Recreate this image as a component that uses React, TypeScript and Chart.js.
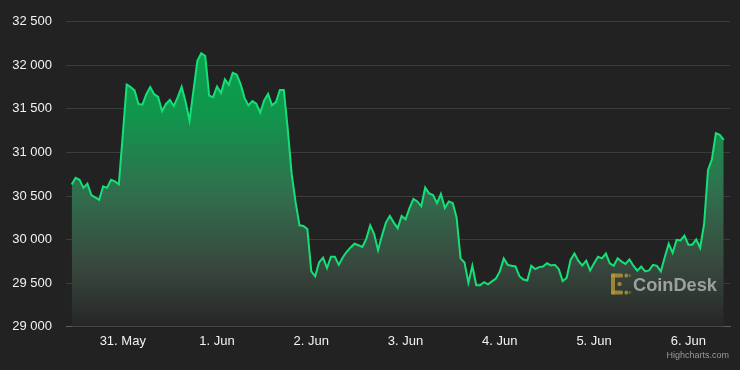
import { useEffect, useRef } from 'react';
import { Chart, registerables } from 'chart.js';

Chart.register(...registerables);

// Day tick labels (midnight of each day, hours 0, 24, ... relative to 31 May 00:00)
const tickLabels = ['31. May', '1. Jun', '2. Jun', '3. Jun', '4. Jun', '5. Jun', '6. Jun'];
const yMin = 29000;
const yMax = 32500;
const yStep = 500;

// Hourly BTC price, first point at 30 May 11:00 (hour -13 relative to 31 May 00:00)
const startHour = -13;
const prices = [
  30631, 30710, 30687, 30594, 30643, 30512, 30485, 30456, 30612, 30594, 30687, 30668, 30635,
  31200, 31780, 31750, 31713, 31557, 31549, 31669, 31750, 31669, 31638, 31474, 31557, 31605,
  31534, 31635, 31754, 31579, 31366, 31709, 32052, 32139, 32108, 31653, 31635,
  31758, 31683, 31840, 31776, 31915, 31896, 31784, 31627, 31541, 31590, 31560, 31456, 31597,
  31672, 31541, 31579, 31717, 31717, 31270, 30754, 30430, 30164, 30157, 30120,
  29635, 29579, 29740, 29792, 29672, 29803, 29803, 29710, 29795, 29860, 29910, 29952, 29935,
  29915, 30008, 30164, 30064, 29878, 30046, 30195, 30270, 30195, 30131, 30270,
  30232, 30360, 30467, 30438, 30382, 30598, 30531, 30512, 30419, 30523, 30363, 30438, 30419,
  30251, 29784, 29736, 29504, 29699, 29475, 29475, 29512, 29486, 29520, 29553,
  29635, 29784, 29710, 29699, 29691, 29579, 29542, 29531, 29699, 29661, 29684, 29691, 29728,
  29703, 29710, 29661, 29523, 29560, 29766, 29840, 29755, 29703, 29758, 29646,
  29728, 29803, 29784, 29840, 29728, 29699, 29785, 29747, 29720, 29773, 29700, 29643, 29691,
  29635, 29646, 29710, 29699, 29635, 29800, 29952, 29848, 29997, 29990, 30046,
  29941, 29941, 30001, 29904, 30176, 30799, 30922, 31221, 31202, 31146,
];

const fmt = (v: number) => {
  const s = Math.round(v).toString();
  return s.replace(/\B(?=(\d{3})+(?!\d))/g, ' ');
};

const watermarkPlugin = {
  id: 'watermark',
  afterDraw(chart: any) {
    const ctx = chart.ctx as CanvasRenderingContext2D;
    ctx.save();
    // CoinDesk logo (approximation)
    const lx = 611;
    const ly = 273.5;
    ctx.fillStyle = 'rgba(185,150,55,0.8)';
    const rr = (x: number, y: number, w: number, h: number) => {
      ctx.beginPath();
      (ctx as any).roundRect(x, y, w, h, 1.5);
      ctx.fill();
    };
    rr(lx, ly, 4, 21);
    rr(lx, ly, 12, 4);
    rr(lx, ly + 17, 12, 4);
    rr(lx + 13.5, ly, 3.5, 4);
    rr(lx + 13.5, ly + 17, 3.5, 4);
    rr(lx + 6.5, ly + 8.5, 4, 4);
    ctx.fillStyle = 'rgba(185,150,55,0.45)';
    rr(lx + 17.5, ly + 0.5, 2.5, 3);
    rr(lx + 17.5, ly + 17.5, 2.5, 3);
    // CoinDesk text
    ctx.fillStyle = 'rgba(185,185,185,0.8)';
    ctx.font = 'bold 19px "Liberation Sans", Arial, sans-serif';
    ctx.textAlign = 'left';
    ctx.textBaseline = 'alphabetic';
    ctx.fillText('CoinDesk', 633, 291, 84);
    // credits
    ctx.fillStyle = '#9a9a9a';
    ctx.font = '9px "Liberation Sans", Arial, sans-serif';
    ctx.textAlign = 'right';
    ctx.fillText('Highcharts.com', 729, 358);
    ctx.restore();
  },
};

export default function App() {
  const ref = useRef<HTMLCanvasElement>(null);

  useEffect(() => {
    document.body.style.margin = '0';
    document.body.style.background = '#222222';
    const points = prices.map((p, i) => ({ x: startHour + i, y: p }));
    const chart = new Chart(ref.current as HTMLCanvasElement, {
      type: 'line',
      data: {
        datasets: [
          {
            data: points,
            borderColor: '#14e077',
            borderWidth: 2,
            pointRadius: 0,
            tension: 0,
            fill: 'start',
            backgroundColor: (c: any) => {
              const a = c.chart.chartArea;
              if (!a) return 'transparent';
              const g = c.chart.ctx.createLinearGradient(0, a.top, 0, a.bottom);
              g.addColorStop(0, 'rgb(6,168,80)');
              g.addColorStop(0.3, 'rgb(16,150,76)');
              g.addColorStop(0.55, 'rgb(48,112,78)');
              g.addColorStop(0.8, 'rgb(56,72,62)');
              g.addColorStop(1, 'rgb(38,38,38)');
              return g;
            },
          },
        ],
      },
      options: {
        responsive: false,
        animation: false,
        events: [],
        layout: { padding: { top: 14, right: 10, left: 0, bottom: 0 } },
        plugins: {
          legend: { display: false },
          tooltip: { enabled: false },
        },
        scales: {
          x: {
            type: 'linear',
            min: -14.45,
            max: 154.6,
            afterFit: (s: any) => {
              s.height = 43.3;
            },
            afterBuildTicks: (s: any) => {
              s.ticks = tickLabels.map((_, i) => ({ value: i * 24 }));
            },
            grid: { display: false, drawTicks: false },
            border: { display: true, color: '#5e5e5e', width: 1 },
            ticks: {
              autoSkip: false,
              maxRotation: 0,
              padding: 7,
              color: '#f2f2f2',
              font: { family: '"Liberation Sans", Arial, sans-serif', size: 13 },
              callback: (v: any) => tickLabels[Math.round(Number(v) / 24)] ?? '',
            },
          },
          y: {
            min: yMin,
            max: yMax,
            afterFit: (s: any) => {
              s.width = 66;
            },
            grid: { color: '#3c3c3c', lineWidth: 1, drawTicks: false },
            border: { display: false },
            ticks: {
              stepSize: yStep,
              padding: 14,
              color: '#f2f2f2',
              font: { family: '"Liberation Sans", Arial, sans-serif', size: 13 },
              callback: (v: any) => fmt(Number(v)),
            },
          },
        },
      },
      plugins: [watermarkPlugin],
    });
    return () => chart.destroy();
  }, []);

  return (
    <div style={{ width: 740, height: 370, background: '#222222', position: 'relative' }}>
      <canvas ref={ref} width={740} height={370} style={{ display: 'block' }} />
    </div>
  );
}
